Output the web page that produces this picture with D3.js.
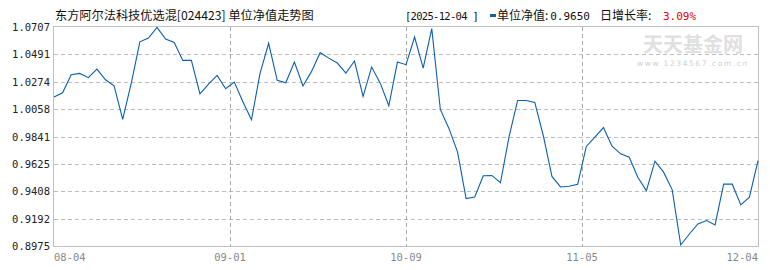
<!DOCTYPE html>
<html><head><meta charset="utf-8">
<script src="https://cdn.jsdelivr.net/npm/d3@7"></script>
<style>body{margin:0;background:#fff}svg{display:block}</style>
</head><body><svg id="c" width="770" height="270"></svg>
<script>
const title = "东方阿尔法科技优选混[024423] 单位净值走势图";
const lastDate = "2025-12-04";
const lastValue = "0.9650";
const dailyGrowth = "3.09%";
const xTickLabels = ["08-04", "09-01", "10-09", "11-05", "12-04"];
const xTickIndex = [0, 20.5, 41, 61.5, 82];
const yTickLabels = ["0.8975", "0.9192", "0.9408", "0.9625", "0.9841", "1.0058", "1.0274", "1.0491", "1.0707"];
const values = [
1.0153,1.0187,1.0329,1.0340,1.0306,1.0374,1.0290,1.0242,0.9977,1.0264,
1.0590,1.0620,1.0703,1.0612,1.0585,1.0443,1.0443,1.0179,1.0255,1.0324,
1.0219,1.0271,1.0116,0.9973,1.0340,1.0578,1.0285,1.0266,1.0430,1.0240,
1.0356,1.0504,1.0461,1.0422,1.0343,1.0438,1.0158,1.0390,1.0263,1.0084,
1.0430,1.0409,1.0628,1.0382,1.0694,1.0055,0.9905,0.9720,0.9350,0.9363,
0.9530,0.9533,0.9475,0.9838,1.0126,1.0126,1.0111,0.9845,0.9525,0.9442,
0.9448,0.9464,0.9762,0.9836,0.9912,0.9764,0.9704,0.9677,0.9519,0.9413,
0.9646,0.9559,0.9421,0.8983,0.9070,0.9149,0.9176,0.9142,0.9464,0.9464,
0.9300,0.9361,0.9650];

const svg = d3.select("#c");
const L = 54, R = 758, T = 27, B = 246;
const x = d3.scaleLinear().domain([0, values.length - 1]).range([L, R]);
const yVals = yTickLabels.map(Number);
const y = d3.scaleLinear().domain([yVals[0], yVals[yVals.length - 1]]).range([B, T]);
const mono = "'DejaVu Sans Mono', monospace";
const cjk = "'Noto Sans CJK SC', sans-serif";

// watermark
svg.append("text").attr("x", 693).attr("y", 52).attr("text-anchor", "middle")
  .attr("font-family", cjk).attr("font-weight", "bold").attr("font-size", 20)
  .attr("fill", "#e0e0e0").text("天天基金网");
svg.append("text").attr("x", 693).attr("y", 66).attr("text-anchor", "middle")
  .attr("font-family", "'DejaVu Sans', sans-serif").attr("font-size", 7.5).attr("letter-spacing", 1.6)
  .attr("fill", "#d0d0d0").text("www.1234567.com.cn");

// horizontal grid
svg.append("g").selectAll("line").data(yVals.slice(1, -1)).join("line")
  .attr("x1", L).attr("x2", R)
  .attr("y1", d => Math.round(y(d)) + 0.5).attr("y2", d => Math.round(y(d)) + 0.5)
  .attr("stroke", "#bdbdbd").attr("stroke-dasharray", "4,3");
// vertical grid
svg.append("g").selectAll("line").data(xTickIndex.slice(1, -1)).join("line")
  .attr("x1", d => Math.round(x(d)) + 0.5).attr("x2", d => Math.round(x(d)) + 0.5)
  .attr("y1", T).attr("y2", B)
  .attr("stroke", "#aaaaaa").attr("stroke-dasharray", "4,3");
// frame
svg.append("rect").attr("x", L - 0.5).attr("y", T - 0.5).attr("width", R - L + 1).attr("height", B - T + 1)
  .attr("fill", "none").attr("stroke", "#c0c0c0");

// y labels
svg.append("g").selectAll("text").data(yTickLabels).join("text")
  .attr("x", 50).attr("y", d => y(+d) + 4).attr("text-anchor", "end")
  .attr("font-family", mono).attr("font-size", 10.5).attr("fill", "#222").text(d => d);

// x labels
svg.append("g").selectAll("text").data(xTickLabels).join("text")
  .attr("x", (d, i) => x(xTickIndex[i]))
  .attr("y", 261)
  .attr("text-anchor", (d, i) => i === 0 ? "start" : (i === xTickLabels.length - 1 ? "end" : "middle"))
  .attr("font-family", mono).attr("font-size", 10.5).attr("fill", "#888").text(d => d);

// line
svg.append("path").datum(values)
  .attr("d", d3.line().x((d, i) => x(i)).y(d => y(d)))
  .attr("fill", "none").attr("stroke", "#0c5fb0").attr("stroke-width", 1.1);

// header
svg.append("text").attr("x", 55).attr("y", 20).attr("font-family", cjk).attr("font-size", 12.2)
  .attr("fill", "#111").text(title);
svg.append("text").attr("x", 405).attr("y", 20).attr("font-family", mono).attr("font-size", 10.5)
  .attr("letter-spacing", -0.7).attr("fill", "#111").text("[" + lastDate + " ]");
svg.append("rect").attr("x", 490).attr("y", 14).attr("width", 6).attr("height", 3).attr("fill", "#0c5fb0");
svg.append("text").attr("x", 497).attr("y", 20).attr("font-family", cjk).attr("font-size", 12)
  .attr("fill", "#111").text("单位净值:");
svg.append("text").attr("x", 590).attr("y", 20).attr("text-anchor", "end").attr("font-family", mono).attr("font-size", 11)
  .attr("fill", "#111").text(lastValue);
svg.append("text").attr("x", 600).attr("y", 20).attr("font-family", cjk).attr("font-size", 12)
  .attr("fill", "#111").text("日增长率:");
svg.append("text").attr("x", 663).attr("y", 20).attr("font-family", mono).attr("font-size", 11)
  .attr("fill", "#e00000").text(dailyGrowth);
</script></body></html>
